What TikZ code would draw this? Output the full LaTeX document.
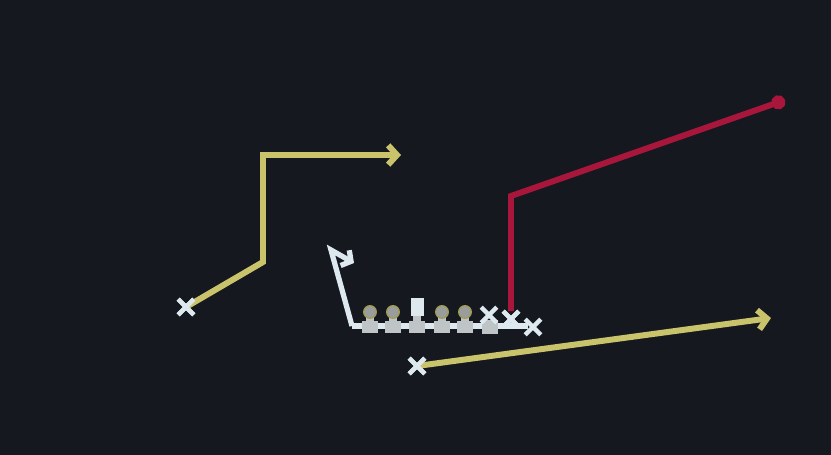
\documentclass[tikz,border=0pt]{standalone}
\usepackage{tikz}
\usetikzlibrary{shapes,shapes.misc,positioning}
\usetikzlibrary{arrows.meta,calc}

\definecolor{bgdark}{HTML}{15181F}
\definecolor{routeyel}{HTML}{C9C46C}
\definecolor{routered}{HTML}{A8163C}
\definecolor{chalk}{HTML}{DDE9EE}
\definecolor{bodygray}{HTML}{BFC4C6}

\tikzset{
  xmark/.style={cross out,draw=chalk,line width=2.6pt,minimum size=0.22cm,inner sep=0pt},
  head/.style={circle,fill=bodygray!80!black,draw=routeyel!80!black,line width=0.8pt,minimum size=0.25cm,inner sep=0pt},
  ctr/.style={rectangle,fill=chalk,minimum width=0.26cm,minimum height=0.36cm,inner sep=0pt},
  yroute/.style={draw=routeyel,line width=3.4pt,line join=miter},
  rroute/.style={draw=routered,line width=3.4pt,line join=miter},
  wroute/.style={draw=chalk,line width=3pt,line join=miter},
}

\begin{document}
\begin{tikzpicture}[x=0.02cm,y=-0.02cm]
\fill[bgdark] (0,0) rectangle (831,455);
\useasboundingbox (0,0) rectangle (831,455);

% line of scrimmage
\coordinate (los1) at (352,326);
\coordinate (los2) at (528,326);
\draw[chalk,line width=3.2pt] (los1)--(los2);

% linemen
\foreach \i/\x in {1/370,2/393,4/442,5/465} {
  \fill[bodygray] (\x-4,316) rectangle (\x+4,322);
  \fill[bodygray] (\x-8,321) rectangle (\x+8,333);
  \node[head] (ol\i) at (\x,312) {};
}
\fill[bodygray] (413,315) rectangle (421,322);
\fill[bodygray] (409,321) rectangle (425,333);
\node[ctr] (ol3) at (417,307) {};
\fill[bodygray] (482,320) rectangle (498,334);

% skill players
\node[xmark] (te)  at (489,315) {};
\node[xmark] (sl)  at (511,319) {};
\node[xmark] (wr)  at (533,327) {};
\node[xmark] (wl)  at (186,307) {};
\node[xmark] (rb)  at (417,366) {};

% routes
\coordinate (a1) at (263,262);
\coordinate (a2) at (263,155);
\coordinate (a3) at (401,155);
\draw[yroute,-{Straight Barb[length=5pt,width=11pt]}] (wl.center)--(a1)--(a2)--(a3);

\coordinate (b1) at (511,196);
\coordinate (b2) at (785,100);
\draw[rroute,-{Circle[length=8pt]}] (sl.north)--(b1)--(b2);

\coordinate (c1) at (771,318);
\draw[yroute,-{Straight Barb[length=5pt,width=11pt]}] (rb.center)--(c1);

\coordinate (d1) at (331,250);
\coordinate (d2) at (354,263);
\draw[wroute,-{Straight Barb[length=4pt,width=10pt]}] (los1)--(d1)--(d2);

\node[xmark] at (wl) {};
\node[xmark] at (rb) {};
\node[xmark] at (sl) {};
\end{tikzpicture}
\end{document}
